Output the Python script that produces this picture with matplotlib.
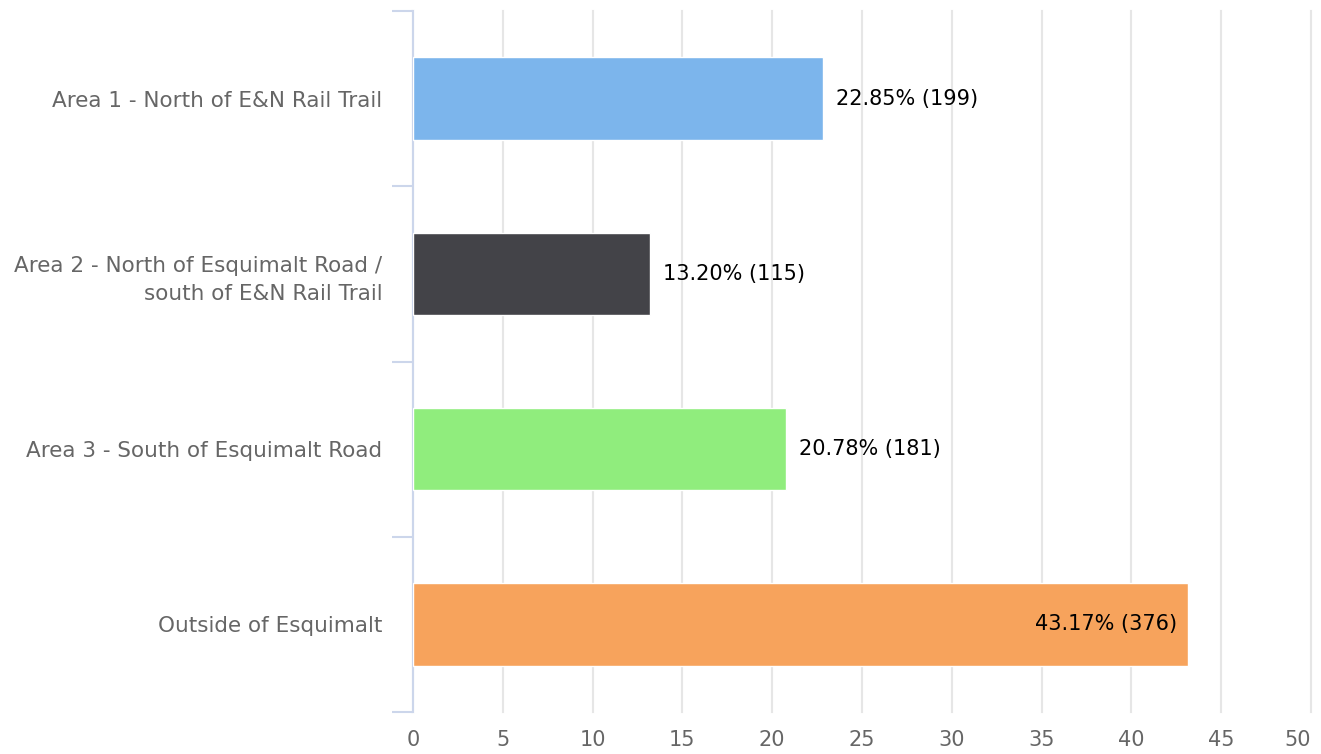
import matplotlib
matplotlib.use("Agg")
import matplotlib.pyplot as plt
import numpy as np

categories = ["Area 1 - North of E&N Rail Trail",
              "Area 2 - North of Esquimalt Road /\nsouth of E&N Rail Trail",
              "Area 3 - South of Esquimalt Road",
              "Outside of Esquimalt"]
percents = [22.85, 13.20, 20.78, 43.17]
counts = [199, 115, 181, 376]
colors = ["#7cb5ec", "#434348", "#90ed7d", "#f7a35c"]
xticks = [0, 5, 10, 15, 20, 25, 30, 35, 40, 45, 50]

W, H = 1321, 754
fig = plt.figure(figsize=(W/100, H/100), dpi=100)
ax = fig.add_axes([413/W, (H-712)/H, (1311-413)/W, (712-11)/H])

y = np.arange(len(categories))
ax.barh(y, percents, height=0.47, color=colors, edgecolor="white", linewidth=1, zorder=3)
ax.set_ylim(len(categories)-0.5, -0.5)
ax.set_xlim(0, 50)

ax.set_xticks(xticks)
ax.set_xticklabels([str(t) for t in xticks], color="#666666", fontsize=15)
ax.tick_params(axis="x", length=0, pad=13)
ax.get_xticklabels()[-1].set_horizontalalignment("right")
ax.grid(axis="x", color="#e6e6e6", linewidth=1.5, zorder=0)
for gl in ax.get_xgridlines():
    gl.set_clip_on(False)

ax.set_yticks(y)
ax.set_yticklabels(categories, color="#666666", fontsize=15.5, ha="right", linespacing=1.5)
ax.tick_params(axis="y", length=0, pad=22)
ax.set_yticks(np.arange(-0.5, len(categories), 1.0), minor=True)
ax.tick_params(axis="y", which="minor", length=15, color="#ccd6eb", width=1.5)

for s in ["top", "right", "bottom"]:
    ax.spines[s].set_visible(False)
ax.spines["left"].set_color("#ccd6eb")
ax.spines["left"].set_linewidth(1.5)

for i, (p, c) in enumerate(zip(percents, counts)):
    label = f"{p:.2f}% ({c})"
    if p > 40:
        ax.text(p - 0.6, i, label, ha="right", va="center", fontsize=15, color="black", zorder=4)
    else:
        ax.text(p + 0.7, i, label, ha="left", va="center", fontsize=15, color="black", zorder=4)

fig.savefig("out.png", dpi=100)
